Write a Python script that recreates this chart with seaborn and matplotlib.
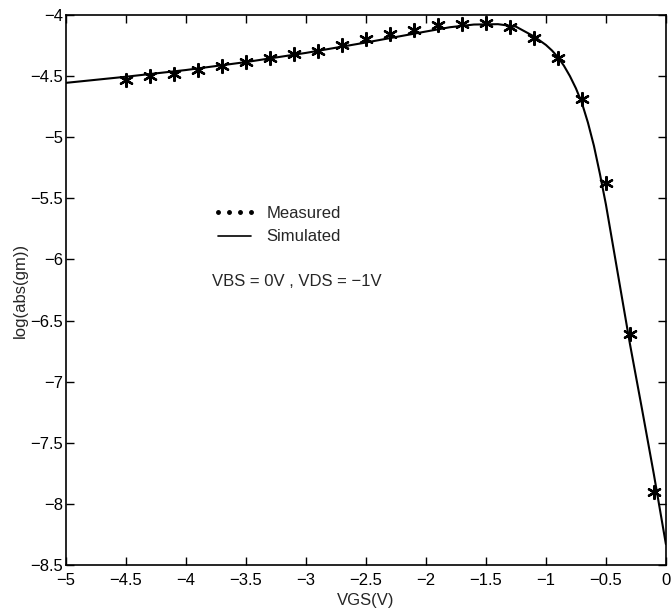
import matplotlib
matplotlib.use('Agg')
from matplotlib import pyplot as plt
from matplotlib.lines import Line2D
import seaborn as sns
import pandas as pd

# measured gm (log10) vs VGS
vgs_meas = [-4.5, -4.3, -4.1, -3.9, -3.7, -3.5, -3.3, -3.1, -2.9, -2.7, -2.5, -2.3,
            -2.1, -1.9, -1.7, -1.5, -1.3, -1.1, -0.9, -0.7, -0.5, -0.3, -0.1]
gm_meas = [-4.53, -4.50, -4.48, -4.45, -4.42, -4.385, -4.355, -4.32, -4.295, -4.245, -4.20, -4.155,
           -4.123, -4.08, -4.074, -4.068, -4.096, -4.188, -4.352, -4.69, -5.377, -6.61, -7.90]

# simulated curve
vgs_sim = [-5.0, -4.5, -4.0, -3.5, -3.0, -2.5, -2.0, -1.8, -1.6, -1.4, -1.25, -1.1,
           -1.0, -0.95, -0.9, -0.85, -0.8, -0.75, -0.7, -0.65, -0.6, -0.55, -0.5,
           -0.4, -0.3, -0.2, -0.1, 0.0]
gm_sim = [-4.555, -4.505, -4.45, -4.385, -4.31, -4.225, -4.135, -4.10, -4.078, -4.075, -4.095, -4.175,
          -4.245, -4.29, -4.345, -4.415, -4.50, -4.60, -4.72, -4.88, -5.07, -5.30, -5.55,
          -6.12, -6.69, -7.22, -7.76, -8.33]

x_ticks = [-5, -4.5, -4, -3.5, -3, -2.5, -2, -1.5, -1, -0.5, 0]
y_ticks = [-8.5, -8, -7.5, -7, -6.5, -6, -5.5, -5, -4.5, -4]

meas = pd.DataFrame({'VGS': vgs_meas, 'gm': gm_meas})
sim = pd.DataFrame({'VGS': vgs_sim, 'gm': gm_sim})

sns.set_theme(style='ticks')
plt.rcParams['font.family'] = ['Liberation Sans', 'DejaVu Sans']

fig = plt.figure(figsize=(6.71, 6.15), dpi=100)
ax = fig.add_axes([0.0984, 0.0813, 0.894, 0.8943])

sns.lineplot(ax=ax, data=sim, x='VGS', y='gm', color='black', linewidth=1.5,
             sort=False, legend=False)
sns.scatterplot(ax=ax, data=meas, x='VGS', y='gm', marker=(6, 2, 0), s=85,
                color='black', linewidth=1.7, legend=False)

ax.set_xlim(-5, 0)
ax.set_ylim(-8.5, -4)
ax.set_xticks(x_ticks)
ax.set_yticks(y_ticks)
ax.set_xticklabels([f'{t:g}'.replace('-', '\u2212') for t in x_ticks])
ax.set_yticklabels([f'{t:g}'.replace('-', '\u2212') for t in y_ticks])
ax.tick_params(direction='in', top=True, right=True, length=6, width=1,
               labelsize=12, colors='black')
ax.tick_params(axis='x', pad=6)
ax.tick_params(axis='y', pad=2)
for s in ax.spines.values():
    s.set_linewidth(1.2)
    s.set_color('black')
ax.set_xlabel('VGS(V)', fontsize=12, labelpad=3)
ax.set_ylabel('log(abs(gm))', fontsize=12, labelpad=2)

handles = [
    Line2D([], [], linestyle='none', marker='o', markersize=2.5, color='black'),
    Line2D([], [], linestyle='-', color='black', linewidth=1.2),
]
ax.legend(handles, ['Measured', 'Simulated'], loc='upper left',
          bbox_to_anchor=(0.22, 0.68), frameon=False, fontsize=12,
          numpoints=4, handlelength=2.6, handletextpad=0.6, labelspacing=0.5)
ax.text(0.243, 0.516, 'VBS = 0V , VDS = \u22121V', transform=ax.transAxes,
        fontsize=12, va='center', ha='left')

fig.savefig('out.png', dpi=100)
